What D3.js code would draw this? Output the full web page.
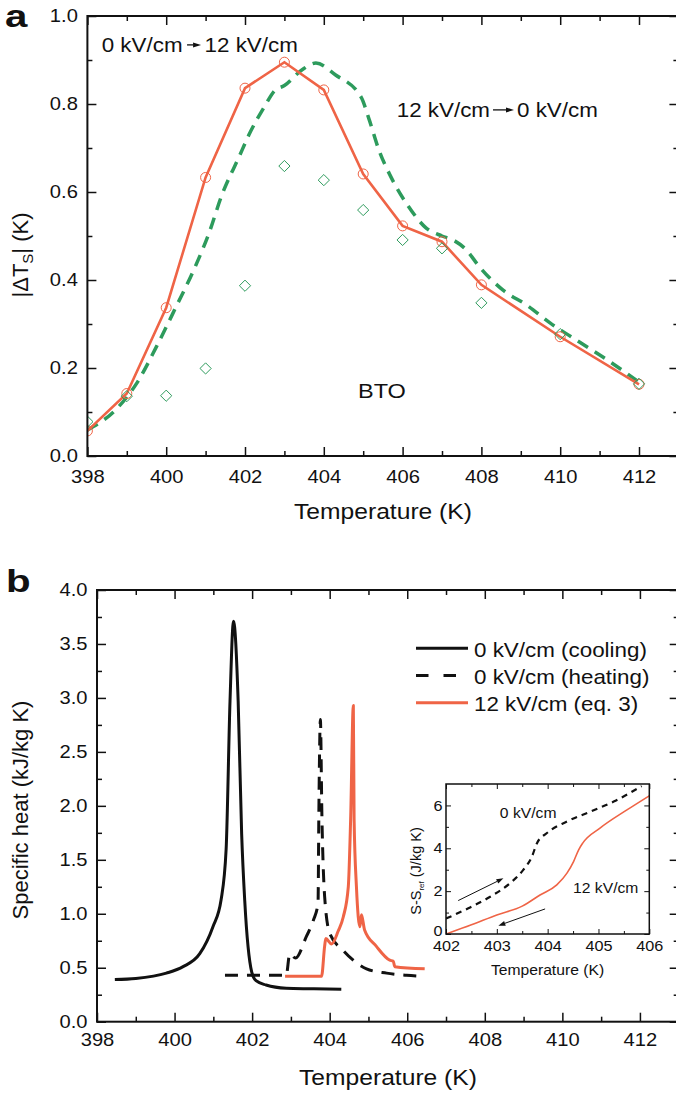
<!DOCTYPE html>
<html>
<head>
<meta charset="utf-8">
<script src="https://cdn.jsdelivr.net/npm/d3@7"></script>
<style>
  body { margin: 0; background: #fff; }
  svg { display: block; font-family: "Liberation Sans", Arial, sans-serif; }
</style>
</head>
<body>
<svg id="chart"></svg>
<script>
// ---------- panel a : |dT_S| vs temperature ----------
const tempA = [398, 399, 400, 401, 402, 403, 404, 405, 406, 407, 408, 410, 412]
const dTs_0to12 = [0.057, 0.142, 0.337, 0.633, 0.836, 0.895, 0.832, 0.641, 0.523, 0.487, 0.389, 0.271, 0.163]
const dTs_12to0 = [0.078, 0.136, 0.137, 0.199, 0.387, 0.659, 0.627, 0.559, 0.491, 0.472, 0.348, 0.277, 0.164]
// dashed green curve (12 -> 0 kV/cm)
const dashT = [398, 398.75, 399.25, 399.75, 400.25, 400.7, 401.1, 401.4, 401.85, 402.1, 402.5, 402.75, 403, 403.45, 403.8, 404.3, 404.95, 405.15, 405.4, 405.7, 406.15, 406.6, 407, 407.3, 407.6, 407.95, 408.55, 409.15, 409.75, 410.4, 411.2, 412]
const dashDT = [0.059, 0.108, 0.165, 0.248, 0.339, 0.423, 0.51, 0.59, 0.68, 0.73, 0.795, 0.83, 0.842, 0.878, 0.893, 0.866, 0.815, 0.765, 0.695, 0.635, 0.567, 0.518, 0.5, 0.49, 0.47, 0.43, 0.377, 0.343, 0.302, 0.264, 0.218, 0.168]

// ---------- panel b : specific heat ----------
const coolT = [398.46, 399.0, 399.79, 400.22, 400.65, 400.99, 401.2, 401.33, 401.43, 401.52, 401.64, 401.73, 401.81, 401.99, 402.1, 402.36, 402.88, 403.5, 404.3]
const coolC = [0.39, 0.40, 0.45, 0.51, 0.63, 0.88, 1.13, 1.6, 2.97, 3.71, 2.97, 1.74, 1.12, 0.46, 0.38, 0.34, 0.31, 0.305, 0.30]
const heatT = [401.3, 402.88, 402.97, 403.12, 403.4, 403.58, 403.7, 403.72, 403.76, 403.8, 403.87, 404.0, 404.35, 404.95, 405.47, 405.98, 406.37]
const heatC = [0.43, 0.43, 0.63, 0.59, 0.79, 0.94, 1.1, 1.9, 2.8, 1.9, 1.16, 0.82, 0.66, 0.49, 0.45, 0.43, 0.42]
const fieldT = [402.85, 403.79, 403.87, 403.9, 404.05, 404.22, 404.35, 404.48, 404.54, 404.61, 404.63, 404.69, 404.78, 404.82, 404.9, 405.2, 405.55, 405.64, 405.68, 406.45]
const fieldC = [0.42, 0.42, 0.7, 0.77, 0.72, 0.84, 0.97, 1.25, 1.87, 2.93, 1.87, 1.25, 0.88, 0.99, 0.85, 0.70, 0.57, 0.56, 0.51, 0.49]
const legendLabels = ['0 kV/cm (cooling)', '0 kV/cm (heating)', '12 kV/cm (eq. 3)']

// ---------- inset : entropy ----------
const inHeatT = [402, 402.44, 402.87, 403.26, 403.52, 403.69, 403.79, 403.98, 404.38, 404.84, 405.3, 405.85]
const inHeatS = [0.72, 1.2, 1.74, 2.37, 2.99, 3.61, 4.24, 4.7, 5.25, 5.71, 6.18, 6.9]
const inFieldT = [402, 402.5, 403, 403.5, 403.85, 404.18, 404.38, 404.51, 404.61, 404.69, 405.03, 405.56, 406]
const inFieldS = [0, 0.43, 0.89, 1.3, 1.82, 2.29, 2.84, 3.38, 3.93, 4.24, 4.94, 5.79, 6.45]

const W = 676, H = 1096
const SX = 1.12          // source figure is a little wider than tall
const RED = '#ef6446', GREEN = '#2d9b5c', INK = '#111'

const svg = d3.select('#chart').attr('width', W).attr('height', H)
svg.append('rect').attr('width', W).attr('height', H).attr('fill', '#fff')

// text with the horizontal stretch
function label(parent, x, y, str, size, opts = {}) {
  const g = parent.append('g').attr('transform', `translate(${x},${y})`)
  return g.append('text')
    .attr('transform', `scale(${opts.sx || SX},1)`)
    .attr('font-size', size)
    .attr('font-weight', opts.weight || 'normal')
    .attr('text-anchor', opts.anchor || 'start')
    .attr('fill', INK)
    .text(str)
}

function arrow(g, x1, y1, x2, y2, hl, hw, sw) {
  const a = Math.atan2(y2 - y1, x2 - x1)
  const bx = x2 - hl * Math.cos(a), by = y2 - hl * Math.sin(a)
  const px = -Math.sin(a) * hw / 2, py = Math.cos(a) * hw / 2
  g.append('line').attr('x1', x1).attr('y1', y1).attr('x2', bx).attr('y2', by)
    .attr('stroke', INK).attr('stroke-width', sw)
  g.append('path').attr('d', `M${x2},${y2}L${bx + px},${by + py}L${bx - px},${by - py}Z`).attr('fill', INK)
}

/**
 * box with inward ticks on all four sides, labels only left and bottom
 */
function frame(g, x, y, o) {
  const [xl, xr] = x.range(), [yb, yt] = y.range()
  const sides = [
    { axis: d3.axisBottom(x), tr: `translate(0,${yb})`, major: o.xMajor, minor: o.xMinor, fmt: o.xFmt, pad: o.padX },
    { axis: d3.axisTop(x), tr: `translate(0,${yt})`, major: o.xMajor, minor: o.xMinor },
    { axis: d3.axisLeft(y), tr: `translate(${xl},0)`, major: o.yMajor, minor: o.yMinor, fmt: o.yFmt, pad: o.padY },
    { axis: d3.axisRight(y), tr: `translate(${xr},0)`, major: o.yMajor, minor: o.yMinor }
  ]
  sides.forEach(s => {
    const ga = g.append('g').attr('transform', s.tr)
    ga.append('g').call(s.axis.tickValues(s.minor).tickSize(-o.minor).tickFormat(() => ''))
    ga.append('g').call(s.axis.tickValues(s.major).tickSize(-o.major).tickPadding(s.pad || 0).tickFormat(s.fmt || (() => '')))
    ga.selectAll('g').attr('font-family', null).attr('font-size', null)
    ga.selectAll('.domain').remove()
    ga.selectAll('line').attr('stroke', INK).attr('stroke-width', o.tw)
    ga.selectAll('text').attr('font-size', o.fs).attr('fill', INK).attr('transform', `scale(${SX},1)`)
  })
  g.append('rect').attr('x', xl).attr('y', yt).attr('width', xr - xl).attr('height', yb - yt)
    .attr('fill', 'none').attr('stroke', INK).attr('stroke-width', o.sw)
}

function clip(id, x, y) {
  const [xl, xr] = x.range(), [yb, yt] = y.range()
  svg.append('clipPath').attr('id', id).append('rect')
    .attr('x', xl).attr('y', yt).attr('width', xr - xl).attr('height', yb - yt)
  return `url(#${id})`
}

const fmt1 = d3.format('.1f')

// =================== panel a ===================
const xA = d3.scaleLinear().domain([398, 413]).range([87.4, 678.4])
const yA = d3.scaleLinear().domain([0, 1]).range([456, 16])
const gA = svg.append('g')
const lineA = d3.line().x(d => xA(d[0])).y(d => yA(d[1]))
const dataA = gA.append('g').attr('clip-path', clip('clipA', xA, yA))

dataA.append('path').datum(d3.zip(dashT, dashDT))
  .attr('d', lineA.curve(d3.curveMonotoneX)).attr('fill', 'none').attr('stroke', GREEN)
  .attr('stroke-width', 3.5).attr('stroke-dasharray', '12,8')

dataA.append('path').datum(d3.zip(tempA, dTs_0to12))
  .attr('d', lineA.curve(d3.curveLinear)).attr('fill', 'none').attr('stroke', RED).attr('stroke-width', 2.6)

dataA.selectAll('circle').data(d3.zip(tempA, dTs_0to12)).enter().append('circle')
  .attr('cx', d => xA(d[0])).attr('cy', d => yA(d[1])).attr('r', 5)
  .attr('fill', 'none').attr('stroke', RED).attr('stroke-width', 1)

dataA.selectAll('path.dia').data(d3.zip(tempA, dTs_12to0)).enter().append('path')
  .attr('class', 'dia')
  .attr('d', d3.symbol(d3.symbolDiamond2, 80))
  .attr('transform', d => `translate(${xA(d[0])},${yA(d[1])})`)
  .attr('fill', 'none').attr('stroke', GREEN).attr('stroke-width', 1)

frame(gA, xA, yA, {
  xMajor: d3.range(398, 413, 2), xMinor: d3.range(399, 414, 2),
  yMajor: d3.range(0, 6).map(i => i * 0.2), yMinor: d3.range(0, 5).map(i => i * 0.2 + 0.1),
  xFmt: d3.format('d'), yFmt: fmt1, padX: 14, padY: 8.5,
  major: 9, minor: 5, tw: 1.5, sw: 2, fs: 18
})

function chain(g, x, y, left, right, gap1, len, gap2, size) {
  const t1 = label(g, x, y, left, size)
  const w1 = t1.node().getComputedTextLength() * SX
  const ax = x + w1 + gap1
  arrow(g, ax, y - size * 0.34, ax + len, y - size * 0.34, 8, 5, 1.3)
  label(g, ax + len + gap2, y, right, size)
}
chain(gA, 101.7, 51.7, '0 kV/cm', '12 kV/cm', 4.5, 14, 3.5, 20)
chain(gA, 396.7, 116.7, '12 kV/cm', '0 kV/cm', 3, 21, 3, 20)
label(gA, 358, 398, 'BTO', 21)

label(gA, 383, 519, 'Temperature (K)', 22, { anchor: 'middle' })
const ytA = gA.append('text').attr('transform', 'translate(28,255) rotate(-90)')
  .attr('text-anchor', 'middle').attr('font-size', 22).attr('fill', INK)
ytA.append('tspan').text('|ΔT')
ytA.append('tspan').attr('font-size', 15).attr('dy', 5).text('S')
ytA.append('tspan').attr('dy', -5).text('| (K)')
label(svg, 5, 27, 'a', 31, { weight: 'bold', sx: 1.3 })

// =================== panel b ===================
const xB = d3.scaleLinear().domain([398, 413]).range([97, 678.7])
const yB = d3.scaleLinear().domain([0, 4]).range([1021.7, 590])
const gB = svg.append('g')
const lineB = d3.line().x(d => xB(d[0])).y(d => yB(d[1])).curve(d3.curveMonotoneX)
const dataB = gB.append('g').attr('clip-path', clip('clipB', xB, yB))

dataB.append('path').datum(d3.zip(heatT, heatC))
  .attr('d', lineB).attr('fill', 'none').attr('stroke', INK)
  .attr('stroke-width', 3).attr('stroke-dasharray', '13,9')
dataB.append('path').datum(d3.zip(coolT, coolC))
  .attr('d', lineB).attr('fill', 'none').attr('stroke', INK).attr('stroke-width', 3)
  .attr('stroke-linejoin', 'round')
dataB.append('path').datum(d3.zip(fieldT, fieldC))
  .attr('d', lineB).attr('fill', 'none').attr('stroke', RED).attr('stroke-width', 3)
  .attr('stroke-linejoin', 'round')

frame(gB, xB, yB, {
  xMajor: d3.range(398, 413, 2), xMinor: d3.range(399, 414, 2),
  yMajor: d3.range(0, 9).map(i => i * 0.5), yMinor: d3.range(0, 8).map(i => i * 0.5 + 0.25),
  xFmt: d3.format('d'), yFmt: fmt1, padX: 12, padY: 8.5,
  major: 9, minor: 5, tw: 1.5, sw: 2, fs: 18
})

// legend
const legStyles = [
  { stroke: INK, dash: null },
  { stroke: INK, dash: '12.5,15' },
  { stroke: RED, dash: null }
]
legendLabels.forEach((txt, i) => {
  const ly = 648.3 + i * 27.2
  gB.append('line').attr('x1', 416).attr('x2', 468).attr('y1', ly).attr('y2', ly)
    .attr('stroke', legStyles[i].stroke).attr('stroke-width', 3)
    .attr('stroke-dasharray', legStyles[i].dash)
  label(gB, 474, ly + 8.3, txt, 20)
})

label(gB, 388, 1085, 'Temperature (K)', 22, { anchor: 'middle' })
gB.append('text').attr('transform', 'translate(28,810) rotate(-90)')
  .attr('text-anchor', 'middle').attr('font-size', 22).attr('fill', INK)
  .text('Specific heat (kJ/kg K)')
label(svg, 6, 592, 'b', 31, { weight: 'bold', sx: 1.3 })

// =================== inset ===================
const xI = d3.scaleLinear().domain([402, 406]).range([446, 649.3])
const yI = d3.scaleLinear().domain([0, 7]).range([934, 784])
const gI = svg.append('g')
gI.append('rect').attr('x', 446).attr('y', 784).attr('width', 203.3).attr('height', 150).attr('fill', '#fff')
const lineI = d3.line().x(d => xI(d[0])).y(d => yI(d[1])).curve(d3.curveMonotoneX)
const dataI = gI.append('g').attr('clip-path', clip('clipI', xI, yI))

dataI.append('path').datum(d3.zip(inHeatT, inHeatS))
  .attr('d', lineI).attr('fill', 'none').attr('stroke', INK)
  .attr('stroke-width', 2.2).attr('stroke-dasharray', '6,5')
dataI.append('path').datum(d3.zip(inFieldT, inFieldS))
  .attr('d', lineI).attr('fill', 'none').attr('stroke', RED).attr('stroke-width', 1.6)

frame(gI, xI, yI, {
  xMajor: d3.range(402, 407, 1), xMinor: d3.range(402.5, 406, 1),
  yMajor: [0, 2, 4, 6], yMinor: [1, 3, 5],
  xFmt: d3.format('d'), yFmt: d3.format('d'), padX: 6.5, padY: 3,
  major: 5, minor: 3, tw: 1, sw: 1.5, fs: 14.5
})
// lift the "0" a little so it clears "402"
gI.selectAll('text').filter(function () { return this.textContent === '0' }).attr('dy', '0.1em')

arrow(gI, xI(402.24), yI(1.56), xI(403.13), yI(2.6), 7, 5, 1)
arrow(gI, xI(403.95), yI(1.17), xI(403.03), yI(0.39), 7, 5, 1)
label(gI, xI(403.06), yI(5.42), '0 kV/cm', 14)
label(gI, xI(404.5), yI(1.92), '12 kV/cm', 14)

label(gI, 547.5, 975, 'Temperature (K)', 14, { anchor: 'middle' })
const ytI = gI.append('text').attr('transform', 'translate(421,871) rotate(-90)')
  .attr('text-anchor', 'middle').attr('font-size', 14.5).attr('fill', INK)
ytI.append('tspan').text('S-S')
ytI.append('tspan').attr('font-size', 8).attr('dy', 3).text('ref')
ytI.append('tspan').attr('dy', -3).text(' (J/kg K)')
</script>
</body>
</html>
